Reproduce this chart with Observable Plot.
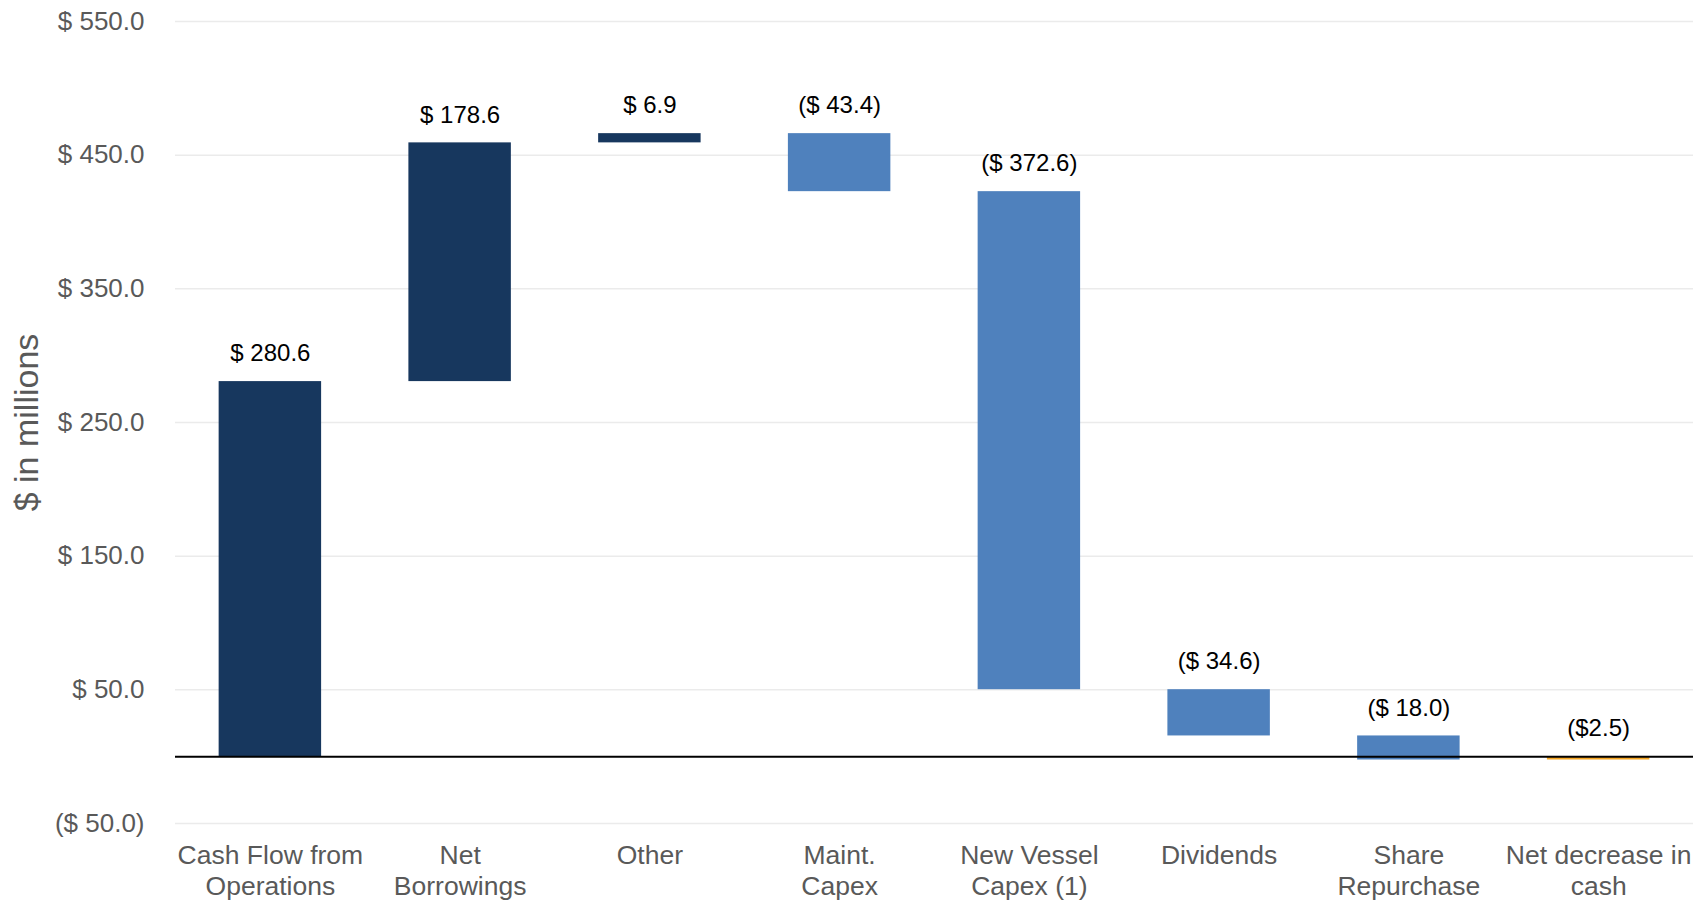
<!DOCTYPE html>
<html>
<head>
<meta charset="utf-8">
<script src="https://cdn.jsdelivr.net/npm/d3@7"></script>
<script src="https://cdn.jsdelivr.net/npm/@observablehq/plot@0.6"></script>
<style>
  html, body { margin: 0; padding: 0; background: #fff; }
  #chart svg { display: block; }
</style>
</head>
<body>
<div id="chart"></div>
<script>
// Categories (x-axis tick labels, two lines)
const categories = [
  "Cash Flow from\nOperations",
  "Net\nBorrowings",
  "Other",
  "Maint.\nCapex",
  "New Vessel\nCapex (1)",
  "Dividends",
  "Share\nRepurchase",
  "Net decrease in\ncash"
];
// Step values ($ in millions)
const values = [280.6, 178.6, 6.9, -43.4, -372.6, -34.6, -18.0, -2.5];
// Step kind: inflow, outflow, or ending total
const kinds = ["inflow", "inflow", "inflow", "outflow", "outflow", "outflow", "outflow", "total"];
// Value labels shown above each bar
const valueLabels = ["$ 280.6", "$ 178.6", "$ 6.9", "($ 43.4)", "($ 372.6)", "($ 34.6)", "($ 18.0)", "($2.5)"];
// Y-axis ticks and their labels
const yTicks = [-50, 50, 150, 250, 350, 450, 550];
const yTickLabels = ["($ 50.0)", "$ 50.0", "$ 150.0", "$ 250.0", "$ 350.0", "$ 450.0", "$ 550.0"];

// Build waterfall table
let running = 0;
const data = categories.map((c, i) => {
  let start, end;
  if (kinds[i] === "total") { start = 0; end = values[i]; }
  else { start = running; end = running + values[i]; running = end; }
  return { category: c, start, end, top: Math.max(start, end, 0), kind: kinds[i], label: valueLabels[i] };
});

const colors = { inflow: "#17375E", outflow: "#4F81BD", total: "#F5A623" };

const chart = Plot.plot({
  width: 1706,
  height: 901,
  marginTop: 21,
  marginBottom: 78,
  marginLeft: 175,
  marginRight: 13,
  style: { fontFamily: "Liberation Sans, Arial, sans-serif", background: "#fff" },
  x: { domain: categories, paddingInner: 0.46, paddingOuter: 0.23, round: false, label: null },
  y: { domain: [-50, 550], label: null },
  marks: [
    Plot.gridY(yTicks, { stroke: "#ebebeb", strokeOpacity: 1, strokeWidth: 1.5 }),
    Plot.barY(data, { x: "category", y1: "start", y2: "end", fill: d => colors[d.kind] }),
    Plot.ruleY([0], { stroke: "#000", strokeWidth: 2 }),
    Plot.text(data, { x: "category", y: "top", text: "label", dy: -28, fill: "#000", fontSize: 24, lineAnchor: "middle" }),
    Plot.axisY(yTicks, {
      tickSize: 0, tickPadding: 0, dx: -31,
      tickFormat: (d) => yTickLabels[yTicks.indexOf(d)],
      fontSize: 26, fill: "#595959", label: null
    }),
    Plot.axisX({
      tickSize: 0, tickPadding: 0, dy: 19,
      fontSize: 26.5, fill: "#595959", label: null, lineHeight: 1.15
    }),
    Plot.text(["$ in millions"], {
      frameAnchor: "left", textAnchor: "middle", dx: -148, rotate: -90, fontSize: 34, fill: "#595959"
    })
  ]
});

document.getElementById("chart").appendChild(chart);
</script>
</body>
</html>
